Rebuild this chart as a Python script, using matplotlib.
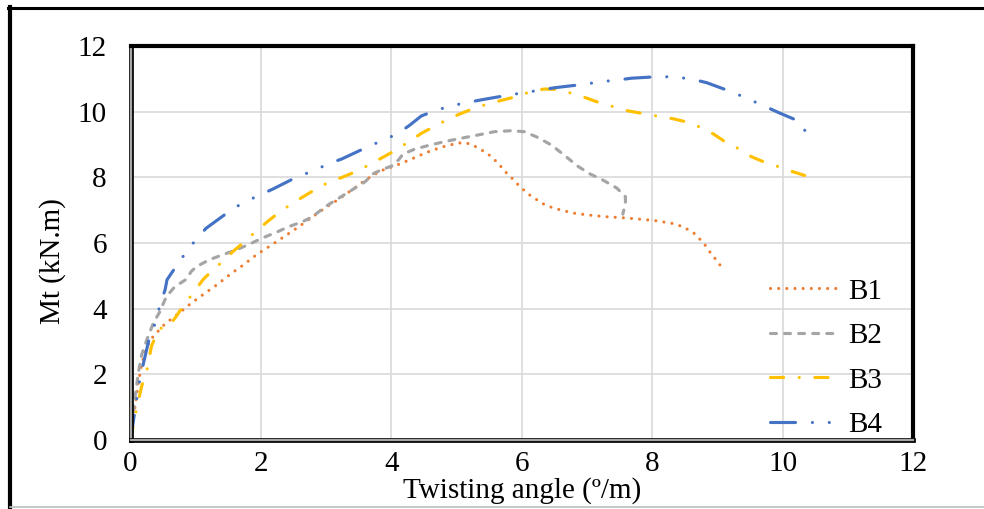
import matplotlib
matplotlib.use("Agg")
from matplotlib import pyplot as plt
from matplotlib.lines import Line2D
import matplotlib.patheffects as pe

# torsion test curves: twisting angle (deg/m) vs torque Mt (kN.m)
b1_x = [0, 0.07, 0.12, 0.17, 0.25, 0.35, 0.53, 0.71, 0.92, 1.12, 1.32, 1.53, 1.73, 1.93,
        2.14, 2.36, 2.57, 2.78, 3.00, 3.19, 3.41, 3.62, 3.84, 4.07, 4.30, 4.53, 4.77, 5.01,
        5.13, 5.25, 5.36, 5.47, 5.57, 5.66, 5.73, 5.83, 5.91, 6.00, 6.10, 6.20, 6.31, 6.42,
        6.55, 6.79, 7.03, 7.29, 7.54, 7.79, 8.05, 8.30, 8.42, 8.53, 8.64, 8.73, 8.81, 8.88,
        8.96, 9.04]
b1_y = [0, 1.02, 1.73, 2.29, 2.85, 3.16, 3.54, 3.81, 4.15, 4.44, 4.72, 5.05, 5.33, 5.64,
        5.91, 6.20, 6.48, 6.78, 7.09, 7.33, 7.64, 7.94, 8.20, 8.36, 8.55, 8.75, 8.92, 9.04,
        9.06, 8.98, 8.86, 8.73, 8.56, 8.38, 8.20, 8.02, 7.84, 7.67, 7.49, 7.36, 7.21, 7.11,
        7.03, 6.91, 6.85, 6.80, 6.77, 6.73, 6.68, 6.60, 6.53, 6.43, 6.30, 6.12, 5.94, 5.74,
        5.54, 5.33]

b2_x = [0, 0.07, 0.12, 0.17, 0.25, 0.35, 0.45, 0.55, 0.68, 0.86, 0.93, 1.01, 1.21, 1.41,
        1.62, 1.83, 2.02, 2.23, 2.43, 2.64, 2.79, 2.99, 3.19, 3.40, 3.60, 3.73, 3.85, 4.01,
        4.11, 4.18, 4.36, 4.57, 4.82, 5.07, 5.33, 5.58, 5.84, 6.04, 6.24, 6.45, 6.65, 6.85,
        7.05, 7.26, 7.46, 7.59, 7.59, 7.55]
b2_y = [0, 1.32, 2.04, 2.59, 3.05, 3.56, 3.91, 4.37, 4.67, 4.90, 5.13, 5.28, 5.49, 5.64,
        5.79, 5.97, 6.15, 6.32, 6.50, 6.65, 6.80, 7.11, 7.36, 7.62, 7.87, 8.12, 8.23, 8.35,
        8.53, 8.71, 8.86, 8.97, 9.09, 9.19, 9.29, 9.39, 9.42, 9.39, 9.22, 8.99, 8.68, 8.35,
        8.10, 7.90, 7.67, 7.41, 7.21, 6.88]

b3_x = [0, 0.09, 0.17, 0.26, 0.32, 0.44, 0.57, 0.70, 0.82, 0.96, 1.11, 1.26, 1.43, 1.57,
        1.75, 1.92, 2.13, 2.28, 2.46, 2.69, 2.84, 3.04, 3.27, 3.45, 3.66, 3.88, 4.06, 4.25,
        4.46, 4.62, 4.83, 5.05, 5.23, 5.45, 5.68, 5.86, 6.11, 6.34, 6.52, 6.77, 7.00, 7.18,
        7.41, 7.64, 7.84, 8.07, 8.33, 8.50, 8.72, 8.94, 9.09, 9.31, 9.52, 9.70, 9.93, 10.16,
        10.35, 10.57]
b3_y = [0, 0.92, 1.63, 2.19, 2.85, 3.40, 3.42, 3.76, 4.12, 4.47, 4.88, 5.18, 5.46, 5.74,
        6.04, 6.35, 6.70, 6.93, 7.18, 7.46, 7.64, 7.85, 8.02, 8.17, 8.38, 8.62, 8.82, 9.06,
        9.34, 9.51, 9.73, 9.93, 10.07, 10.22, 10.34, 10.43, 10.59, 10.69, 10.68, 10.56, 10.41,
        10.28, 10.15, 10.02, 9.95, 9.87, 9.78, 9.70, 9.54, 9.32, 9.12, 8.89, 8.63, 8.48, 8.33,
        8.17, 8.05, 7.95]

b4_x = [0, 0.07, 0.145, 0.30, 0.40, 0.45, 0.53, 0.56, 0.73, 0.86, 1.01, 1.16, 1.54, 1.73,
        1.96, 2.18, 2.58, 2.80, 3.02, 3.24, 3.65, 3.86, 4.09, 4.29, 4.46, 4.67, 4.90, 5.14,
        5.38, 5.81, 6.04, 6.29, 6.51, 6.98, 7.20, 7.45, 7.69, 8.12, 8.37, 8.62, 8.84, 9.25,
        9.48, 9.71, 9.93, 10.26, 10.30, 10.42]
b4_y = [0, 0.92, 1.88, 3.20, 3.64, 4.12, 4.57, 4.88, 5.38, 5.74, 6.12, 6.45, 7.00, 7.23,
        7.44, 7.64, 8.04, 8.19, 8.40, 8.56, 8.94, 9.12, 9.32, 9.60, 9.87, 10.03, 10.17, 10.27,
        10.36, 10.51, 10.58, 10.66, 10.73, 10.84, 10.91, 10.96, 11.02, 11.07, 11.05, 10.99,
        10.88, 10.58, 10.38, 10.18, 9.98, 9.70, 9.57, 9.16]

series = [
    ("B1", b1_x, b1_y, "#ED7D31", (0, (0.01, 2.6))),
    ("B2", b2_x, b2_y, "#A5A5A5", (0, (1.9, 2.6))),
    ("B3", b3_x, b3_y, "#FFC000", (0, (4.2, 5.0, 0.01, 5.0))),
    ("B4", b4_x, b4_y, "#4472C4", (0, (8.0, 5.4, 0.01, 5.4, 0.01, 5.4))),
]

plt.rcParams['font.family'] = ['Liberation Serif', 'DejaVu Serif']
fs = 21

fig = plt.figure(figsize=(9.84, 5.09), dpi=100)
ax = fig.add_axes([130.5 / 984, 1 - 440 / 509, (913 - 130.5) / 984, (440 - 46) / 509])

for name, xs, ys, col, ls in series:
    ax.plot(xs, ys, color=col, lw=2.25, linestyle=ls, dash_capstyle='round',
            solid_capstyle='round', label=name)

ax.set_xlim(0, 12)
ax.set_ylim(0, 12)
ax.set_xticks(range(0, 13, 2))
ax.set_yticks(range(0, 13, 2))
ax.grid(True, color='#d9d9d9', lw=1.2)
ax.set_axisbelow(True)
ax.tick_params(length=0, labelsize=fs)
ax.tick_params(axis='y', pad=17)
ax.tick_params(axis='x', pad=8)

ax.set_xlabel('Twisting angle (º/m)', fontsize=fs, va='center')
ax.xaxis.set_label_coords(0.5, -0.127)
ax.set_ylabel('Mt (kN.m)', fontsize=fs, va='center')
ax.yaxis.set_label_coords(-0.1, 0.454)

for side in ['top', 'right']:
    ax.spines[side].set_linewidth(3)
    ax.spines[side].set_color('black')
for side in ['left', 'bottom']:
    ax.spines[side].set_linewidth(1.6)
    ax.spines[side].set_color('#a6a6a6')
    ax.spines[side].set_path_effects([pe.Stroke(linewidth=3.4, foreground='black'), pe.Normal()])

ax.legend(loc='lower right', bbox_to_anchor=(0.975, -0.025), frameon=False, fontsize=fs,
          handlelength=2.4, handletextpad=0.25, labelspacing=0.62, borderaxespad=0)

# outer chart-area border
fig.add_artist(Line2D([8 / 984, 1], [1 - 8 / 509, 1 - 8 / 509], color='black', lw=2.2,
                      transform=fig.transFigure))
fig.add_artist(Line2D([10 / 984, 10 / 984], [0, 1 - 7 / 509], color='black', lw=3,
                      transform=fig.transFigure))
fig.add_artist(Line2D([10 / 984, 1], [1 - 507 / 509, 1 - 507 / 509], color='#bfbfbf', lw=1.2,
                      transform=fig.transFigure))

fig.savefig('out.png', dpi=100)
